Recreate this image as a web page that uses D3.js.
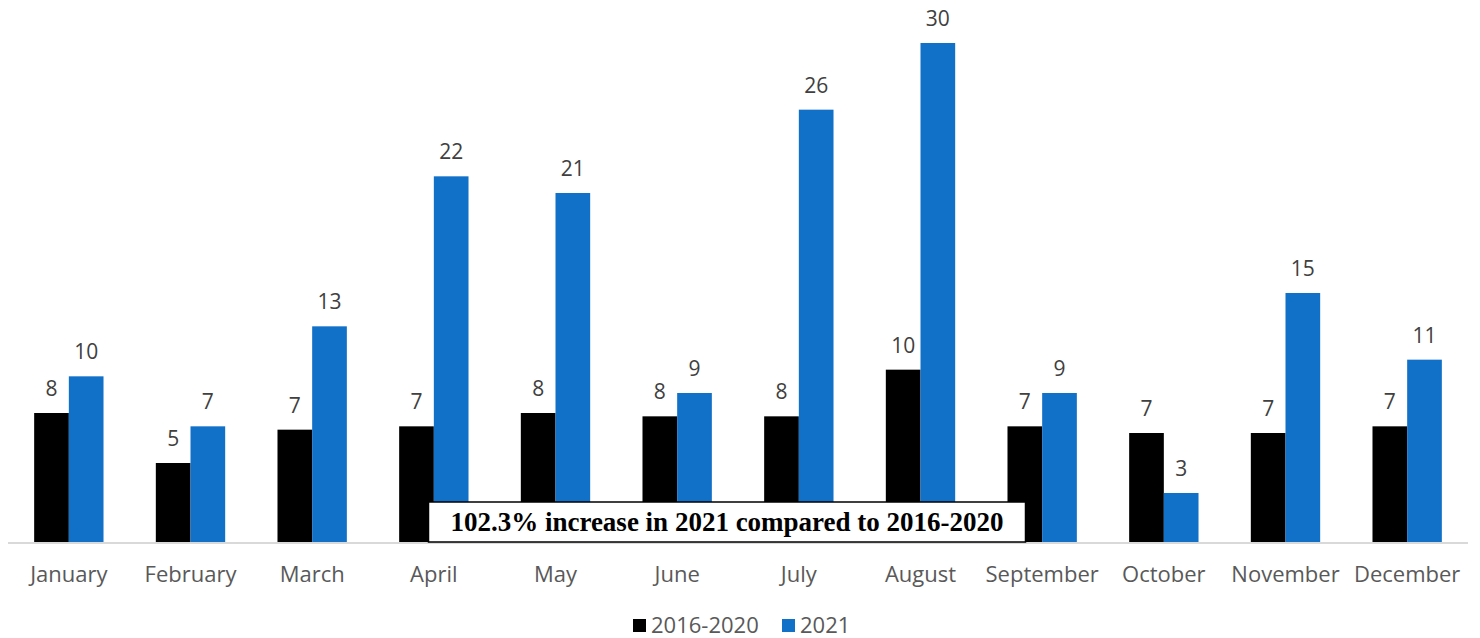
<!DOCTYPE html>
<html>
<head>
<meta charset="utf-8">
<script src="https://cdn.jsdelivr.net/npm/d3@7"></script>
<style>
  body { margin: 0; background: #fff; }
  svg text { font-family: "Open Sans", "Noto Sans", sans-serif; }
  svg text.note { font-family: "Liberation Serif", "Times New Roman", serif; font-weight: bold; }
</style>
</head>
<body>
<svg id="chart" width="1480" height="638"></svg>
<script>
const months = ['January', 'February', 'March', 'April', 'May', 'June', 'July', 'August', 'September', 'October', 'November', 'December'];
const avg2016to2020 = [7.8, 4.8, 6.8, 7.0, 7.8, 7.6, 7.6, 10.4, 7.0, 6.6, 6.6, 7.0];
const year2021 = [10, 7, 13, 22, 21, 9, 26, 30, 9, 3, 15, 11];
const seriesNames = ['2016-2020', '2021'];
const seriesColors = ['#000000', '#1170c7'];
const note = '102.3% increase in 2021 compared to 2016-2020';

const W = 1480, H = 638;
const margin = {top: 10, right: 12, bottom: 95, left: 8};
const baseY = 543;

const svg = d3.select('#chart');

const x = d3.scaleBand()
    .domain(months)
    .range([margin.left, W - margin.right])
    .paddingInner(0.43)
    .paddingOuter(0.215);

const sub = d3.scaleBand()
    .domain(seriesNames)
    .range([0, x.bandwidth()]);

const y = d3.scaleLinear()
    .domain([0, 30])
    .range([baseY, 43]);

const rows = months.map((m, i) => ({month: m, values: [avg2016to2020[i], year2021[i]]}));

const groups = svg.append('g').selectAll('g')
    .data(rows)
    .join('g')
    .attr('transform', d => `translate(${x(d.month)},0)`);

groups.selectAll('rect')
    .data(d => d.values.map((v, k) => ({v, k})))
    .join('rect')
    .attr('x', d => sub(seriesNames[d.k]))
    .attr('y', d => y(d.v))
    .attr('width', sub.bandwidth())
    .attr('height', d => baseY - y(d.v))
    .attr('fill', d => seriesColors[d.k]);

groups.selectAll('text.val')
    .data(d => d.values.map((v, k) => ({v, k})))
    .join('text')
    .attr('class', 'val')
    .attr('x', d => sub(seriesNames[d.k]) + sub.bandwidth() / 2)
    .attr('y', d => y(d.v) - 17)
    .attr('text-anchor', 'middle')
    .attr('font-size', 21)
    .attr('fill', '#404040')
    .text(d => d3.format('.0f')(d.v));

// baseline + month labels
const xAxis = svg.append('g')
    .attr('transform', `translate(0,${baseY})`)
    .call(d3.axisBottom(x).tickSize(0).tickPadding(23));
xAxis.select('.domain').attr('stroke', '#d9d9d9').attr('stroke-width', 2)
    .attr('d', `M${margin.left},0H${W - margin.right}`);
xAxis.selectAll('text')
    .attr('font-size', 22)
    .attr('fill', '#595959');

// annotation box
const noteG = svg.append('g');
noteG.append('rect')
    .attr('x', 428.5)
    .attr('y', 502)
    .attr('width', 597)
    .attr('height', 40)
    .attr('fill', '#fff')
    .attr('stroke', '#000')
    .attr('stroke-width', 1.5);
noteG.append('text')
    .attr('class', 'note')
    .attr('x', 727)
    .attr('y', 531)
    .attr('text-anchor', 'middle')
    .attr('font-size', 27)
    .attr('fill', '#000')
    .text(note);

// legend
const legend = svg.append('g');
const legendX = [633, 782];
seriesNames.forEach((name, k) => {
  const g = legend.append('g').attr('transform', `translate(${legendX[k]},0)`);
  g.append('rect').attr('x', 0).attr('y', 619).attr('width', 13).attr('height', 13)
      .attr('fill', seriesColors[k]);
  g.append('text').attr('x', 18).attr('y', 633)
      .attr('font-size', 22).attr('fill', '#595959').text(name);
});
</script>
</body>
</html>
